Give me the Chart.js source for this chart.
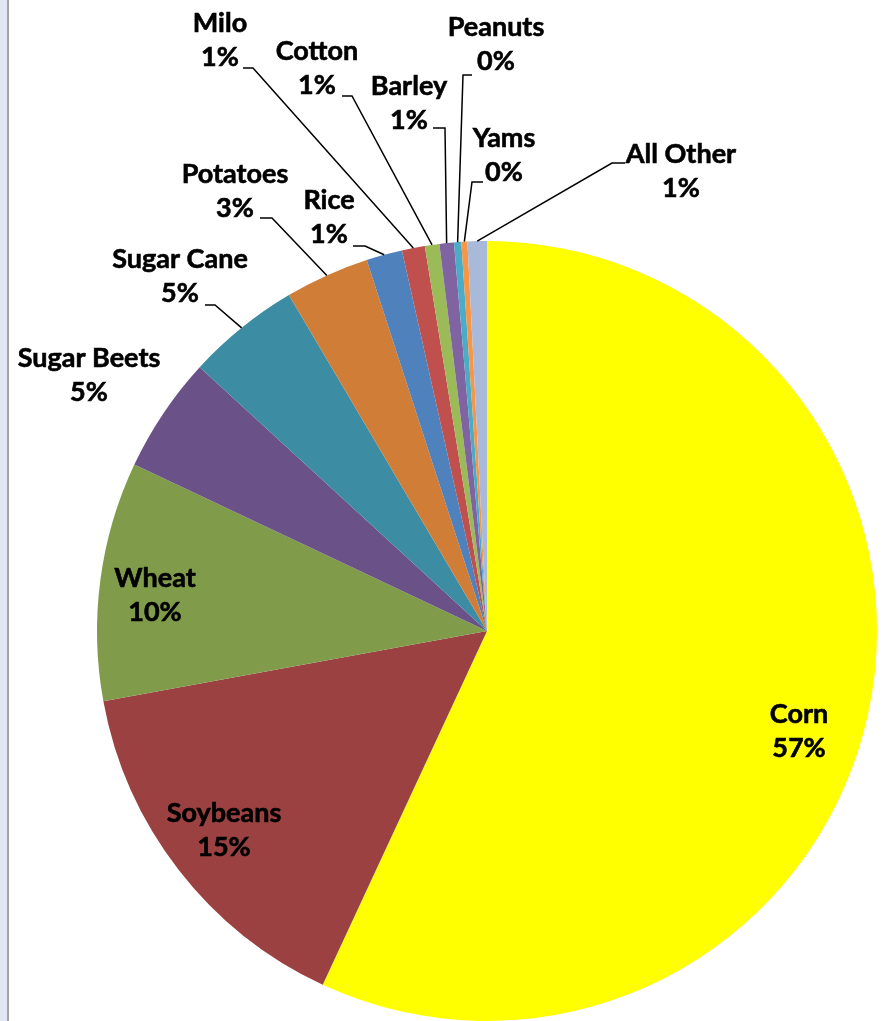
<!DOCTYPE html>
<html>
<head>
<meta charset="utf-8">
<script src="https://cdn.jsdelivr.net/npm/chart.js@4.4.0/dist/chart.umd.min.js"></script>
<style>
  html, body { margin: 0; padding: 0; background: #ffffff; }
  #wrap { position: relative; width: 882px; height: 1021px; overflow: hidden; }
  #strip { position: absolute; left: 0; top: 0; width: 7px; height: 1021px; background: #e1e8f4; border-right: 2px solid #a4a4a4; }
  #chart { position: absolute; left: 0; top: 0; }
</style>
</head>
<body>
<div id="wrap">
  <div id="strip"></div>
  <canvas id="chart" width="882" height="1021"></canvas>
</div>
<script>
// Crop shares (percent of total), clockwise from 12 o'clock
const crops = ['Corn', 'Soybeans', 'Wheat', 'Sugar Beets', 'Sugar Cane', 'Potatoes', 'Rice',
               'Milo', 'Cotton', 'Barley', 'Peanuts', 'Yams', 'All Other'];
const shares = [56.92, 15.2, 9.9, 4.8, 4.7, 3.49, 1.49, 0.95, 0.6, 0.6, 0.3, 0.25, 0.8];
const sliceColors = ['#ffff00', '#9c4141', '#809c4b', '#6a5288', '#3c8da3', '#d07d38', '#4f81bd',
                     '#c0504d', '#9bbb59', '#8064a2', '#4bacc6', '#f79646', '#a9b9da'];

// Label layout: centre x and first-line baseline; optional leader (elbow point + tail end)
const labelLayout = [
  { x: 799, y: 723 },
  { x: 224, y: 822 },
  { x: 155, y: 587 },
  { x: 89,  y: 367 },
  { x: 180, y: 268, leader: { ex: 215, ey: 305, tx: 205 } },
  { x: 235, y: 183, leader: { ex: 272, ey: 218, tx: 260 } },
  { x: 329, y: 209, leader: { ex: 365, ey: 246, tx: 353 } },
  { x: 220, y: 32,  leader: { ex: 253, ey: 68,  tx: 243 } },
  { x: 317, y: 60,  leader: { ex: 352, ey: 96,  tx: 342 } },
  { x: 409, y: 95,  leader: { ex: 445, ey: 128, tx: 433 } },
  { x: 496, y: 36,  leader: { ex: 463, ey: 75,  tx: 472 } },
  { x: 504, y: 147, leader: { ex: 472, ey: 182, tx: 483 } },
  { x: 681, y: 163, leader: { ex: 612, ey: 163, tx: 625 } }
];
const lineGap = 34;
const labelFont = 'bold 27px Lato, "Open Sans", sans-serif';

const total = shares.reduce((a, b) => a + b, 0);

const sliceLabels = {
  id: 'sliceLabels',
  afterDatasetsDraw(chart) {
    const ctx = chart.ctx;
    const meta = chart.getDatasetMeta(0);
    ctx.save();
    meta.data.forEach((arc, i) => {
      const L = labelLayout[i];
      const pct = Math.round(shares[i] / total * 100) + '%';
      if (L.leader) {
        const p = arc.getProps(['x', 'y', 'startAngle', 'endAngle', 'outerRadius'], true);
        const mid = (p.startAngle + p.endAngle) / 2;
        const ax = p.x + Math.cos(mid) * p.outerRadius;
        const ay = p.y + Math.sin(mid) * p.outerRadius;
        ctx.beginPath();
        ctx.moveTo(L.leader.tx, L.leader.ey);
        ctx.lineTo(L.leader.ex, L.leader.ey);
        ctx.lineTo(ax, ay);
        ctx.strokeStyle = '#000000';
        ctx.lineWidth = 1.5;
        ctx.stroke();
      }
      ctx.fillStyle = '#000000';
      ctx.font = labelFont;
      ctx.textAlign = 'center';
      ctx.textBaseline = 'alphabetic';
      // slightly heavier strokes to approximate the bold label face
      ctx.strokeStyle = '#000000';
      ctx.lineWidth = 0.6;
      ctx.strokeText(crops[i], L.x, L.y);
      ctx.strokeText(pct, L.x, L.y + lineGap);
      ctx.fillText(crops[i], L.x, L.y);
      ctx.fillText(pct, L.x, L.y + lineGap);
    });
    ctx.restore();
  }
};

new Chart(document.getElementById('chart'), {
  type: 'pie',
  data: {
    labels: crops,
    datasets: [{
      data: shares,
      backgroundColor: sliceColors,
      borderWidth: 0
    }]
  },
  options: {
    responsive: false,
    animation: false,
    layout: { padding: { left: 97, right: 5, top: 241, bottom: 0 } },
    plugins: { legend: { display: false }, tooltip: { enabled: false } }
  },
  plugins: [sliceLabels]
});
</script>
</body>
</html>
